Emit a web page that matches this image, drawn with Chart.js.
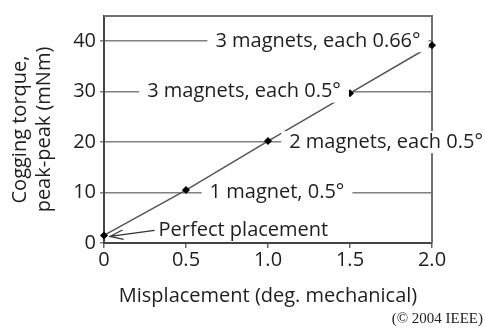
<!DOCTYPE html>
<html>
<head>
<meta charset="utf-8">
<script src="https://cdn.jsdelivr.net/npm/chart.js@4"></script>
<style>
  html, body { margin: 0; padding: 0; background: #fff; }
  #wrap { width: 485px; height: 328px; position: relative; }
</style>
</head>
<body>
<div id="wrap"><canvas id="chart" width="485" height="328"></canvas></div>
<script>
// --- Data ---
const misplacement = [0, 0.5, 1.0, 1.5, 2.0];
const torque = [1.5, 10.5, 20.2, 29.7, 39.2];
const yTickLabels = [0, 10, 20, 30, 40];

// annotation labels (data coords)
const noteText = ["3 magnets, each 0.66°", "3 magnets, each 0.5°", "2 magnets, each 0.5°", "1 magnet, 0.5°", "Perfect placement"];
const noteX = [1.305, 0.854, 1.72, 1.055, 0.85];
const noteY = [40, 30, 20, 10, 2.5];

const FONT = "'Open Sans', sans-serif";
const TXT = '#1e1e1e';

// --- Plugin: frame, annotation boxes, arrow, copyright ---
const notesPlugin = {
    id: 'notes',
    beforeDatasetsDraw(chart) {
        // top and right frame lines
        const ctx = chart.ctx, a = chart.chartArea;
        ctx.save();
        ctx.strokeStyle = '#707070';
        ctx.lineWidth = 2;
        ctx.beginPath();
        ctx.moveTo(a.left, a.top);
        ctx.lineTo(a.right, a.top);
        ctx.lineTo(a.right, a.bottom);
        ctx.stroke();
        ctx.restore();
    },
    afterDatasetsDraw(chart) {
        const ctx = chart.ctx;
        const xs = chart.scales.x, ys = chart.scales.y;
        ctx.save();
        ctx.font = '20px ' + FONT;
        ctx.textAlign = 'center';
        ctx.textBaseline = 'middle';
        noteText.forEach((t, i) => {
            const px = xs.getPixelForValue(noteX[i]);
            const py = ys.getPixelForValue(noteY[i]);
            const w = ctx.measureText(t).width;
            ctx.fillStyle = '#fff';
            ctx.fillRect(px - w / 2 - 8, py - 11, w + 16, 22);
            ctx.fillStyle = TXT;
            ctx.fillText(t, px, py);
        });
        // arrow from "Perfect placement" to first point
        const last = noteText.length - 1;
        const w = ctx.measureText(noteText[last]).width;
        const sx = xs.getPixelForValue(noteX[last]) - w / 2 - 4;
        const sy = ys.getPixelForValue(noteY[last]);
        const ex = xs.getPixelForValue(misplacement[0]) + 6;
        const ey = ys.getPixelForValue(torque[0]) + 1;
        ctx.strokeStyle = '#333';
        ctx.lineWidth = 1.2;
        ctx.beginPath();
        ctx.moveTo(sx, sy);
        ctx.lineTo(ex, ey);
        const ang = Math.atan2(sy - ey, sx - ex);
        ctx.moveTo(ex + 14 * Math.cos(ang - 0.35), ey + 14 * Math.sin(ang - 0.35));
        ctx.lineTo(ex, ey);
        ctx.lineTo(ex + 14 * Math.cos(ang + 0.35), ey + 14 * Math.sin(ang + 0.35));
        ctx.stroke();
        // copyright
        ctx.font = "15px 'Liberation Serif', serif";
        ctx.textAlign = 'right';
        ctx.textBaseline = 'alphabetic';
        ctx.fillStyle = '#222';
        ctx.fillText('(© 2004 IEEE)', 483, 323);
        ctx.restore();
    }
};

new Chart(document.getElementById('chart'), {
    type: 'line',
    data: {
        labels: misplacement,
        datasets: [{
            data: misplacement.map((x, i) => ({ x: x, y: torque[i] })),
            borderColor: '#555',
            borderWidth: 1.5,
            pointStyle: 'rectRot',
            pointRadius: 4,
            pointBackgroundColor: '#000',
            pointBorderColor: '#000',
            pointBorderWidth: 0,
            fill: false,
            tension: 0,
            clip: 6
        }]
    },
    options: {
        responsive: false,
        animation: false,
        layout: { padding: { left: 8, right: 53, top: 13, bottom: 20 } },
        plugins: { legend: { display: false }, tooltip: { enabled: false } },
        scales: {
            x: {
                type: 'linear',
                min: 0, max: 2,
                afterFit: s => { s.height = 65; },
                border: { color: '#444', width: 2 },
                grid: { display: true, drawOnChartArea: false, color: '#666', tickLength: 5, lineWidth: 1.5 },
                ticks: {
                    stepSize: 0.5,
                    color: TXT,
                    font: { family: FONT, size: 20 },
                    padding: 0,
                    callback: v => v === 0 ? '0' : v.toFixed(1)
                },
                title: {
                    display: true,
                    text: 'Misplacement (deg. mechanical)',
                    color: TXT,
                    font: { family: FONT, size: 20 },
                    padding: { top: 2, bottom: 0 }
                }
            },
            y: {
                min: 0, max: 45,
                afterFit: s => { s.width = 96; },
                border: { color: '#444', width: 2 },
                grid: { color: '#808080', lineWidth: 1.5, tickLength: 4 },
                ticks: {
                    stepSize: 5,
                    color: TXT,
                    font: { family: FONT, size: 20 },
                    padding: 4,
                    callback: v => yTickLabels.includes(v) ? String(v) : ''
                },
                title: {
                    display: true,
                    text: ['Cogging torque,', 'peak-peak (mNm)'],
                    color: TXT,
                    font: { family: FONT, size: 20 },
                    padding: 0
                }
            }
        }
    },
    plugins: [notesPlugin]
});
</script>
</body>
</html>
